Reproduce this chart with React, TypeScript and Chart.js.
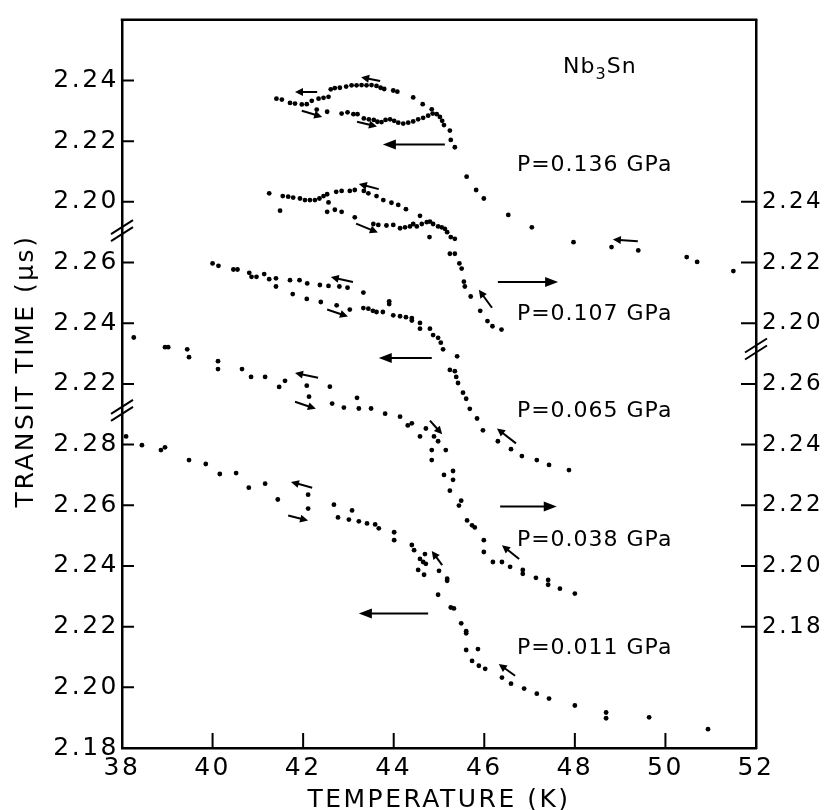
import React, { useEffect, useRef } from 'react';
import { Chart, registerables } from 'chart.js';

Chart.register(...registerables);

// ---------- axes ----------
const X_MIN = 38;
const X_MAX = 52;
const X_STEP = 2;
const Y_MIN = 2.18; // shared plot scale (broken axes are stacked on it)
const Y_MAX = 2.42;

// Left axis: three stacked segments (offset added to the real value)
const LEFT_SEGMENTS = [
  { offset: 0.0, labels: [2.18, 2.2, 2.22, 2.24, 2.26, 2.28] },
  { offset: 0.08, labels: [2.22, 2.24, 2.26] },
  { offset: 0.16, labels: [2.2, 2.22, 2.24] },
];
// Right axis: two stacked segments
const RIGHT_SEGMENTS = [
  { offset: 0.04, labels: [2.18, 2.2, 2.22, 2.24, 2.26] },
  { offset: 0.12, labels: [2.2, 2.22, 2.24] },
];
const LEFT_BREAKS = [2.2913, 2.3505];
const RIGHT_BREAKS = [2.3115];

// ---------- data: [temperature K, transit time µs] ----------
const P_0136: [number, number][] = [
  [41.41, 2.234], [41.53, 2.2337], [41.71, 2.2326], [41.82, 2.2324], [41.97, 2.2321], [42.08, 2.2322],
  [42.19, 2.2333], [42.34, 2.234], [42.45, 2.2343], [42.56, 2.2346],
  [42.61, 2.2371], [42.7, 2.2375], [42.81, 2.2376], [42.95, 2.238], [43.07, 2.2384], [43.18, 2.2384],
  [43.29, 2.2385], [43.4, 2.2384], [43.51, 2.2385], [43.62, 2.2382], [43.71, 2.2376], [43.79, 2.2372],
  [43.99, 2.2367], [44.08, 2.2363], [44.43, 2.2344], [44.64, 2.2322], [44.84, 2.2305],
  [42.3, 2.2304], [42.53, 2.2297], [42.85, 2.2291], [42.98, 2.2295], [43.11, 2.2289], [43.2, 2.2289],
  [43.34, 2.2275], [43.45, 2.2272], [43.56, 2.227], [43.64, 2.2264], [43.73, 2.2263], [43.82, 2.227],
  [43.92, 2.2272], [44.01, 2.2267], [44.1, 2.2261], [44.21, 2.2258], [44.32, 2.2261], [44.43, 2.2265],
  [44.54, 2.2272], [44.65, 2.2277], [44.76, 2.2284], [44.86, 2.2291], [44.95, 2.2289], [45.02, 2.228],
  [45.07, 2.2267], [45.11, 2.2253],
  [45.24, 2.2235], [45.26, 2.2204], [45.35, 2.218],
  [45.61, 2.2083], [45.82, 2.2039], [45.99, 2.2011], [46.53, 2.1957], [47.05, 2.1916], [47.97, 2.1867],
  [48.81, 2.1851], [49.4, 2.184], [50.47, 2.1818], [50.7, 2.1802], [51.5, 2.1772],
];

const P_0107: [number, number][] = [
  [41.25, 2.2428], [41.49, 2.2371], [41.55, 2.2419], [41.67, 2.2417], [41.78, 2.2414], [41.93, 2.2411],
  [42.04, 2.2406], [42.15, 2.2406], [42.26, 2.2406], [42.36, 2.2411], [42.45, 2.2419], [42.53, 2.2425],
  [42.56, 2.2398], [42.53, 2.2367], [42.7, 2.2374], [42.85, 2.2367],
  [42.73, 2.2433], [42.85, 2.2436], [43.03, 2.2436], [43.14, 2.2439], [43.34, 2.2436], [43.44, 2.2428],
  [43.62, 2.2419], [43.77, 2.2406], [43.95, 2.2397], [44.1, 2.239], [44.27, 2.2376], [44.58, 2.2354],
  [43.14, 2.2349], [43.55, 2.2327], [43.66, 2.2324], [43.84, 2.2322], [43.99, 2.2324], [44.14, 2.2313],
  [44.25, 2.2316], [44.36, 2.2319], [44.43, 2.2327], [44.51, 2.2319], [44.62, 2.2327], [44.73, 2.2333],
  [44.8, 2.2335], [44.87, 2.2327], [44.98, 2.2319], [45.06, 2.2316], [45.13, 2.2311], [45.18, 2.23],
  [45.26, 2.2284], [45.35, 2.2278], [44.79, 2.2284],
  [45.24, 2.2229], [45.35, 2.2229], [45.45, 2.2197], [45.5, 2.218], [45.55, 2.2137], [45.57, 2.2121],
  [45.7, 2.2088], [45.91, 2.2041], [46.07, 2.2007], [46.18, 2.199], [46.38, 2.1979],
];

const P_0065: [number, number][] = [
  [40.0, 2.2597], [40.13, 2.2589], [40.46, 2.2577], [40.55, 2.2577], [40.81, 2.2566], [40.86, 2.2553],
  [40.97, 2.2553], [41.14, 2.2562], [41.25, 2.2545], [41.4, 2.2548], [41.4, 2.2521], [41.71, 2.2542],
  [41.92, 2.2542], [42.09, 2.2531], [42.37, 2.2526], [42.56, 2.2523], [42.8, 2.2521], [42.98, 2.2517],
  [43.33, 2.2501],
  [41.77, 2.2496], [42.08, 2.248], [42.39, 2.247], [42.74, 2.2459], [43.03, 2.2445], [43.33, 2.245],
  [43.44, 2.2448], [43.54, 2.2441], [43.62, 2.2437], [43.76, 2.2437], [43.9, 2.2472], [43.9, 2.2463],
  [43.99, 2.2426], [44.14, 2.2423], [44.27, 2.242], [44.4, 2.2417], [44.4, 2.2409], [44.58, 2.2401],
  [44.58, 2.2382], [44.8, 2.2382], [44.87, 2.2361], [44.98, 2.2352], [45.04, 2.2336], [45.09, 2.2314],
  [45.4, 2.2291], [45.24, 2.2246], [45.35, 2.2242], [45.38, 2.2223], [45.42, 2.2203], [45.53, 2.2171],
  [45.6, 2.2151], [45.68, 2.2118], [45.84, 2.2086], [45.97, 2.2047], [46.3, 2.2011], [46.59, 2.1985],
  [46.83, 2.1962], [47.16, 2.1949], [47.43, 2.1933], [47.87, 2.1916],
];

const P_0038: [number, number][] = [
  [38.26, 2.2753], [38.95, 2.2721], [39.02, 2.2721], [39.44, 2.2714], [39.48, 2.2688], [40.12, 2.2675],
  [40.12, 2.2649], [40.65, 2.2649], [40.85, 2.2623], [41.16, 2.2623], [41.47, 2.259], [41.6, 2.261],
  [42.08, 2.2594], [42.13, 2.2558], [42.59, 2.2591], [42.64, 2.2535], [42.9, 2.2522], [43.19, 2.2554],
  [43.23, 2.2519], [43.5, 2.2519], [43.81, 2.2502], [44.14, 2.2492], [44.31, 2.2463], [44.4, 2.247],
  [44.58, 2.2427], [44.71, 2.2453], [44.89, 2.2427], [44.98, 2.2411], [44.84, 2.2382], [45.15, 2.2382],
  [44.84, 2.2349], [45.11, 2.23], [45.31, 2.2313], [45.31, 2.2284], [45.24, 2.2248], [45.49, 2.2215],
  [45.44, 2.2199], [45.62, 2.215], [45.73, 2.2134], [45.79, 2.2127], [45.99, 2.2085], [45.99, 2.2046],
  [46.19, 2.2013], [46.39, 2.2013], [46.57, 2.1997], [46.85, 2.1987], [46.85, 2.1974], [47.14, 2.1961],
  [47.41, 2.1954], [47.41, 2.1938], [47.67, 2.1925], [48.0, 2.1909],
];

const P_0011: [number, number][] = [
  [38.09, 2.2827], [38.44, 2.2798], [38.86, 2.2782], [38.95, 2.2791], [39.48, 2.2749], [39.85, 2.2736],
  [40.16, 2.2703], [40.52, 2.2706], [40.8, 2.2658], [41.16, 2.2671], [41.44, 2.2619], [42.11, 2.2635],
  [42.11, 2.2589], [42.68, 2.2602], [42.77, 2.256], [43.08, 2.2583], [43.01, 2.2553], [43.23, 2.2547],
  [43.41, 2.254], [43.59, 2.2537], [43.67, 2.2524], [44.01, 2.2511], [44.01, 2.2485], [44.4, 2.2469],
  [44.45, 2.2452], [44.58, 2.2423], [44.65, 2.2413], [44.69, 2.2439], [44.54, 2.2387], [44.71, 2.2407],
  [44.67, 2.2371], [45.0, 2.2384], [45.18, 2.2358], [45.18, 2.2351], [44.98, 2.2305], [45.26, 2.2263],
  [45.33, 2.226], [45.49, 2.2211], [45.6, 2.2185], [45.6, 2.2178], [45.6, 2.2123], [45.86, 2.2126],
  [45.73, 2.2087], [45.88, 2.2071], [46.02, 2.2061], [46.39, 2.2032], [46.59, 2.2012], [46.88, 2.1996],
  [47.16, 2.1979], [47.43, 2.1963], [48.0, 2.194], [48.69, 2.1917], [48.69, 2.1898], [49.64, 2.1901],
  [50.94, 2.1862],
];

const SERIES = [
  { label: 'P=0.136 GPa', points: P_0136, offset: 0.16, axis: 'y' },
  { label: 'P=0.107 GPa', points: P_0107, offset: 0.12, axis: 'y2' },
  { label: 'P=0.065 GPa', points: P_0065, offset: 0.08, axis: 'y' },
  { label: 'P=0.038 GPa', points: P_0038, offset: 0.04, axis: 'y2' },
  { label: 'P=0.011 GPa', points: P_0011, offset: 0.0, axis: 'y' },
];

// Label anchors (temperature, plot-scale value)
const LABEL_POS: [number, number][] = [
  [46.72, 2.3719],
  [46.72, 2.323],
  [46.72, 2.291],
  [46.72, 2.2486],
  [46.72, 2.2128],
];
const TITLE_POS: [number, number] = [47.74, 2.4043];

// Heating / cooling arrows: [tailT, tailY, headT, headY] on the plot scale
const ARROWS: [number, number, number, number][] = [
  [42.31, 2.3962, 41.82, 2.3962],
  [43.7, 2.3998, 43.28, 2.4011],
  [41.97, 2.39, 42.42, 2.388],
  [43.19, 2.3864, 43.63, 2.3848],
  [45.13, 2.3789, 43.76, 2.3789],
  [49.39, 2.347, 48.84, 2.3476],
  [43.67, 2.3642, 43.23, 2.3659],
  [43.17, 2.3528, 43.65, 2.3499],
  [46.3, 2.3336, 47.63, 2.3336],
  [46.17, 2.3251, 45.88, 2.331],
  [43.1, 2.3336, 42.61, 2.3352],
  [42.53, 2.3245, 42.99, 2.3222],
  [44.84, 2.3085, 43.67, 2.3085],
  [46.7, 2.2804, 46.28, 2.2853],
  [42.33, 2.302, 41.82, 2.3036],
  [41.82, 2.2941, 42.28, 2.2918],
  [44.8, 2.2879, 45.07, 2.2834],
  [46.35, 2.2596, 47.6, 2.2596],
  [46.77, 2.2423, 46.39, 2.2468],
  [42.2, 2.2658, 41.73, 2.2677],
  [41.67, 2.2566, 42.11, 2.255],
  [45.07, 2.2403, 44.84, 2.2449],
  [44.76, 2.2243, 43.23, 2.2243],
  [46.68, 2.2038, 46.32, 2.2077],
];

const FONT = '"DejaVu Sans", sans-serif';

function tickMap(segments: { offset: number; labels: number[] }[]) {
  const m = new Map<string, string>();
  segments.forEach((s) => s.labels.forEach((l) => m.set((l + s.offset).toFixed(2), l.toFixed(2))));
  return m;
}
const LEFT_MAP = tickMap(LEFT_SEGMENTS);
const RIGHT_MAP = tickMap(RIGHT_SEGMENTS);

const decor = {
  id: 'decor',
  beforeUpdate(chart: any) {
    chart.ctx.letterSpacing = '2.5px';
  },
  beforeDraw(chart: any) {
    chart.ctx.letterSpacing = '2.5px';
  },
  afterDraw(chart: any) {
    const ctx = chart.ctx as CanvasRenderingContext2D;
    const { left, right, top, bottom } = chart.chartArea;
    const xs = chart.scales.x;
    const yl = chart.scales.y;
    const yr = chart.scales.y2;
    ctx.save();
    ctx.strokeStyle = '#000';
    ctx.fillStyle = '#000';
    ctx.lineCap = 'butt';
    // top border
    ctx.lineWidth = 2.5;
    ctx.beginPath();
    ctx.moveTo(left - 1.25, top);
    ctx.lineTo(right + 1.25, top);
    ctx.stroke();
    // inward ticks
    ctx.lineWidth = 2;
    ctx.beginPath();
    xs.ticks.forEach((t: any) => {
      const px = xs.getPixelForValue(t.value);
      ctx.moveTo(px, bottom);
      ctx.lineTo(px, bottom - 15);
    });
    yl.ticks.forEach((t: any) => {
      const py = yl.getPixelForValue(t.value);
      ctx.moveTo(left, py);
      ctx.lineTo(left + 12, py);
    });
    yr.ticks.forEach((t: any) => {
      const py = yr.getPixelForValue(t.value);
      ctx.moveTo(right, py);
      ctx.lineTo(right - 15, py);
    });
    ctx.stroke();
    // axis breaks
    const brk = (x: number, y: number) => {
      ctx.beginPath();
      for (const d of [-3.5, 3.5]) {
        ctx.moveTo(x - 11, y + d + 7);
        ctx.lineTo(x + 11, y + d - 7);
      }
      ctx.stroke();
    };
    ctx.lineWidth = 2;
    LEFT_BREAKS.forEach((v) => brk(left, yl.getPixelForValue(v)));
    RIGHT_BREAKS.forEach((v) => brk(right, yr.getPixelForValue(v)));
    // arrows
    ARROWS.forEach(([t1, v1, t2, v2]) => {
      const x1 = xs.getPixelForValue(t1);
      const y1 = yl.getPixelForValue(v1);
      const x2 = xs.getPixelForValue(t2);
      const y2 = yl.getPixelForValue(v2);
      const len = Math.hypot(x2 - x1, y2 - y1);
      const ang = Math.atan2(y2 - y1, x2 - x1);
      const hl = len > 40 ? 13 : 8;
      const hw = len > 40 ? 5 : 4;
      ctx.lineWidth = 2;
      ctx.beginPath();
      ctx.moveTo(x1, y1);
      ctx.lineTo(x2 - Math.cos(ang) * hl * 0.8, y2 - Math.sin(ang) * hl * 0.8);
      ctx.stroke();
      ctx.beginPath();
      ctx.moveTo(x2, y2);
      ctx.lineTo(x2 - Math.cos(ang) * hl - Math.sin(ang) * hw, y2 - Math.sin(ang) * hl + Math.cos(ang) * hw);
      ctx.lineTo(x2 - Math.cos(ang) * hl + Math.sin(ang) * hw, y2 - Math.sin(ang) * hl - Math.cos(ang) * hw);
      ctx.closePath();
      ctx.fill();
    });
    // series labels
    ctx.letterSpacing = '1px';
    ctx.font = `22px ${FONT}`;
    ctx.textAlign = 'left';
    ctx.textBaseline = 'middle';
    SERIES.forEach((s, i) => {
      const [t, v] = LABEL_POS[i];
      ctx.fillText(s.label, xs.getPixelForValue(t), yl.getPixelForValue(v));
    });
    // Nb3Sn
    {
      let x = xs.getPixelForValue(TITLE_POS[0]);
      const y = yl.getPixelForValue(TITLE_POS[1]);
      ctx.font = `22px ${FONT}`;
      ctx.fillText('Nb', x, y);
      x += ctx.measureText('Nb').width;
      ctx.font = `16px ${FONT}`;
      ctx.fillText('3', x, y + 7);
      x += ctx.measureText('3').width;
      ctx.font = `22px ${FONT}`;
      ctx.fillText('Sn', x, y);
    }
    // axis titles
    ctx.letterSpacing = '2.5px';
    ctx.font = `25px ${FONT}`;
    ctx.textAlign = 'center';
    ctx.fillText('TEMPERATURE (K)', (left + right) / 2, 800);
    ctx.translate(26, 371);
    ctx.rotate(-Math.PI / 2);
    ctx.fillText('TRANSIT TIME (\u00B5s)', 0, 0);
    ctx.restore();
  },
};

export default function App() {
  const ref = useRef<HTMLCanvasElement>(null);
  useEffect(() => {
    document.body.style.margin = '0';
    const canvas = ref.current!;
    const datasets = SERIES.map((s) => ({
      label: s.label,
      data: s.points.map(([t, v]) => ({ x: t, y: v + s.offset })),
      yAxisID: s.axis,
      showLine: false,
      pointRadius: 2.4,
      pointBackgroundColor: '#000',
      pointBorderWidth: 0,
    }));
    const chart = new Chart(canvas, {
      type: 'scatter',
      data: { datasets },
      plugins: [decor],
      options: {
        responsive: false,
        animation: false,
        events: [],
        layout: { padding: { top: 12, left: 0, right: 0, bottom: 0 } },
        plugins: { legend: { display: false }, tooltip: { enabled: false } },
        scales: {
          x: {
            type: 'linear',
            min: X_MIN,
            max: X_MAX,
            grid: { display: false, drawTicks: false },
            border: { display: true, color: '#000', width: 2.5 },
            ticks: {
              stepSize: X_STEP,
              padding: 5,
              color: '#000',
              font: { family: FONT, size: 25 },
              maxRotation: 0,
              autoSkip: false,
            },
            afterFit: (s: any) => {
              s.height = 62;
            },
          },
          y: {
            type: 'linear',
            position: 'left',
            min: Y_MIN,
            max: Y_MAX,
            grid: { display: false, drawTicks: false },
            border: { display: true, color: '#000', width: 2.5 },
            afterBuildTicks: (s: any) => {
              s.ticks = Array.from(LEFT_MAP.keys()).map((k) => ({ value: parseFloat(k) }));
            },
            ticks: {
              padding: 3,
              color: '#000',
              autoSkip: false,
              font: { family: FONT, size: 25 },
              callback: (v: any) => LEFT_MAP.get(Number(v).toFixed(2)) ?? '',
            },
            afterFit: (s: any) => {
              s.width = 122;
            },
          },
          y2: {
            type: 'linear',
            position: 'right',
            min: Y_MIN,
            max: Y_MAX,
            grid: { display: false, drawTicks: false },
            border: { display: true, color: '#000', width: 2.5 },
            afterBuildTicks: (s: any) => {
              s.ticks = Array.from(RIGHT_MAP.keys()).map((k) => ({ value: parseFloat(k) }));
            },
            ticks: {
              padding: 6,
              color: '#000',
              autoSkip: false,
              font: { family: FONT, size: 23 },
              callback: (v: any) => RIGHT_MAP.get(Number(v).toFixed(2)) ?? '',
            },
            afterFit: (s: any) => {
              s.width = 68;
            },
          },
        },
      },
    });
    return () => chart.destroy();
  }, []);
  return <canvas ref={ref} width={824} height={810} style={{ display: 'block', width: 824, height: 810 }} />;
}
